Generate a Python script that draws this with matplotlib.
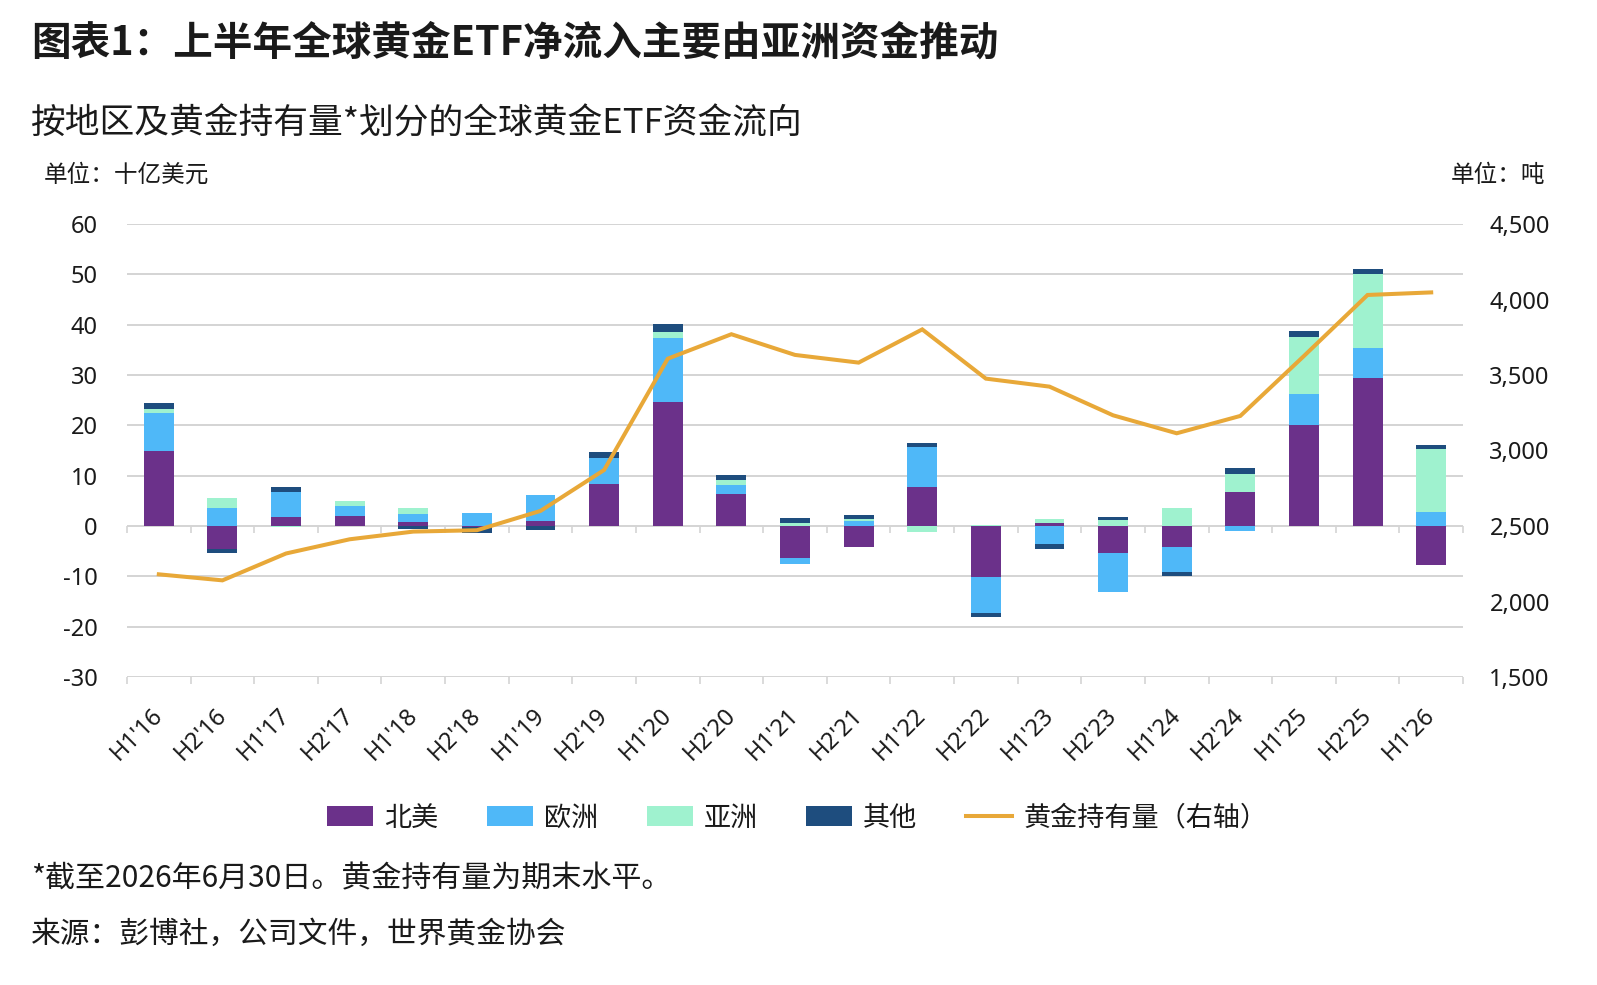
import numpy as np
import matplotlib
matplotlib.use("Agg")
import matplotlib.pyplot as plt
import matplotlib.transforms as mtransforms
from matplotlib.patches import Patch
from matplotlib.lines import Line2D
from matplotlib.ticker import FuncFormatter

# --- DATA ---
periods = ["H1'16", "H2'16", "H1'17", "H2'17", "H1'18", "H2'18", "H1'19", "H2'19",
           "H1'20", "H2'20", "H1'21", "H2'21", "H1'22", "H2'22", "H1'23", "H2'23",
           "H1'24", "H2'24", "H1'25", "H2'25", "H1'26"]
north_america = [14.9, -4.5, 1.7, 2.0, 0.7, -0.1, 1.0, 8.3, 24.7, 6.3, -6.3,
                 -4.1, 7.8, -10.1, 0.5, -5.3, -4.1, 6.8, 20.1, 29.5, -7.7]
europe = [7.6, 3.5, 5.0, 2.0, 1.7, 2.6, 5.2, 5.3, 12.7, 1.9, -1.3,
          1.0, 7.9, -7.2, -3.6, -7.9, -5.0, -0.9, 6.1, 5.8, 2.8]
asia = [0.8, 2.0, -0.2, 1.0, 1.2, 0.0, 0.0, 0.0, 1.2, 0.9, 0.6,
        0.3, -1.1, 0.2, 0.8, 1.1, 3.6, 3.5, 11.3, 14.7, 12.5]
other = [1.2, -0.9, 1.0, 0.0, -0.5, -1.2, -0.8, 1.1, 1.6, 1.1, 0.9,
         0.8, 0.8, -0.8, -0.9, 0.7, -0.9, 1.3, 1.2, 1.0, 0.8]
holdings = [2180, 2140, 2318, 2412, 2463, 2472, 2600, 2871, 3608, 3770, 3633,
            3582, 3802, 3476, 3423, 3233, 3114, 3229, 3626, 4030, 4047]

series_names = ["北美", "欧洲", "亚洲", "其他"]
line_name = "黄金持有量（右轴）"
left_ticks = list(range(-30, 61, 10))
right_ticks = list(range(1500, 4501, 500))

# --- STYLE ---
COLORS = ["#6B318A", "#4FB8F8", "#9FF2CF", "#1E4D7E"]
GOLD = "#E8A838"
GRID = "#D4D4D4"
TEXT = "#1a1a1a"
CJK = ["Noto Sans CJK SC", "DejaVu Sans"]
NUM = ["Noto Sans", "DejaVu Sans"]
plt.rcParams["font.family"] = CJK
plt.rcParams["axes.unicode_minus"] = False

W, H = 1597, 985
fig = plt.figure(figsize=(W / 100, H / 100), dpi=100)
fig.patch.set_facecolor("white")

# plot area in pixels
x0, x1, y_top, y_bot = 127, 1463, 224, 677
ax = fig.add_axes([x0 / W, 1 - y_bot / H, (x1 - x0) / W, (y_bot - y_top) / H])

x = np.arange(len(periods))
pos_bottom = np.zeros(len(x))
neg_bottom = np.zeros(len(x))
for vals, color in zip([north_america, europe, asia, other], COLORS):
    v = np.array(vals, dtype=float)
    bottoms = np.where(v >= 0, pos_bottom, neg_bottom)
    ax.bar(x, v, bottom=bottoms, width=0.47, color=color, zorder=3, linewidth=0)
    pos_bottom += np.where(v >= 0, v, 0)
    neg_bottom += np.where(v < 0, v, 0)

ax.set_xlim(-0.5, len(x) - 0.5)
ax.set_ylim(-30, 60)
ax.set_yticks(left_ticks)
ax.yaxis.grid(True, color=GRID, linewidth=1.4)
ax.set_axisbelow(True)
for s in ax.spines.values():
    s.set_visible(False)
ax.tick_params(axis="y", length=0, pad=21, labelsize=17, labelcolor=TEXT)
for lab in ax.get_yticklabels():
    lab.set_fontfamily(NUM)

# x labels, rotated
ax.set_xticks(x)
ax.set_xticklabels(periods, rotation=45, ha="right", rotation_mode="anchor",
                   fontsize=17, color=TEXT, family=NUM)
ax.tick_params(axis="x", which="major", length=0, pad=19)
offset = mtransforms.ScaledTranslation(-8 / 100, 0, fig.dpi_scale_trans)
for lab in ax.get_xticklabels():
    lab.set_transform(lab.get_transform() + offset)
ax.set_xticks(np.arange(-0.5, len(x)), minor=True)
ax.tick_params(axis="x", which="minor", length=5, width=1.2, color=GRID, direction="out")

# category ticks on the zero line
zero_pos = (0 - (-30)) / 90
sec = ax.secondary_xaxis(zero_pos)
sec.set_xticks(np.arange(-0.5, len(x)))
sec.tick_params(length=5, width=1.2, color=GRID, direction="out", labelbottom=False,
                labeltop=False, bottom=True, top=False)
sec.xaxis.set_ticks_position("bottom")
sec.set_xticklabels([])
for s in sec.spines.values():
    s.set_visible(False)

# right axis: holdings
ax2 = ax.twinx()
ax2.plot(x, holdings, color=GOLD, linewidth=2.9, zorder=4, solid_joinstyle="miter")
ax2.set_ylim(1500, 4500)
ax2.set_yticks(right_ticks)
ax2.yaxis.set_major_formatter(FuncFormatter(lambda v, p: f"{int(v):,}"))
ax2.tick_params(axis="y", length=0, pad=19, labelsize=17, labelcolor=TEXT)
for lab in ax2.get_yticklabels():
    lab.set_fontfamily(NUM)
for s in ax2.spines.values():
    s.set_visible(False)

# texts
fig.text(31 / W, 1 - 43 / H, "图表1：上半年全球黄金ETF净流入主要由亚洲资金推动",
         fontsize=28.5, fontweight="bold", va="center", ha="left", color=TEXT)
fig.text(31 / W, 1 - 124 / H, "按地区及黄金持有量*划分的全球黄金ETF资金流向",
         fontsize=25, va="center", ha="left", color=TEXT)
fig.text(44 / W, 1 - 175 / H, "单位：十亿美元", fontsize=17, va="center", ha="left", color=TEXT)
fig.text(1545 / W, 1 - 175 / H, "单位：吨", fontsize=17, va="center", ha="right", color=TEXT)
fig.text(31 / W, 1 - 879 / H, "*截至2026年6月30日。黄金持有量为期末水平。",
         fontsize=21.6, va="center", ha="left", color=TEXT)
fig.text(31 / W, 1 - 934 / H, "来源：彭博社，公司文件，世界黄金协会",
         fontsize=21.4, va="center", ha="left", color=TEXT)

# legend
handles = [Patch(facecolor=c, edgecolor="none") for c in COLORS]
handles.append(Line2D([0], [0], color=GOLD, linewidth=2.9))
fig.legend(handles, series_names + [line_name], loc="center",
           bbox_to_anchor=(797 / W, 1 - 818 / H), ncol=5, frameon=False,
           fontsize=19.5, handlelength=1.7, handleheight=0.8, handletextpad=0.4,
           columnspacing=1.8, labelcolor=TEXT)

fig.savefig("out.png", dpi=100, facecolor="white")
